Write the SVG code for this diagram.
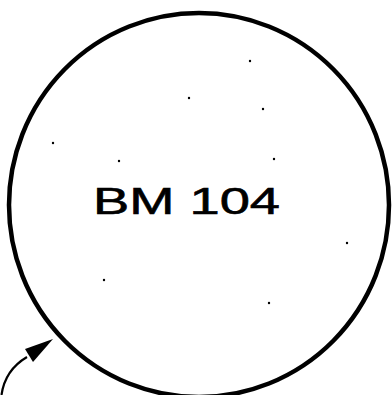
<svg xmlns="http://www.w3.org/2000/svg" width="392" height="395" viewBox="0 0 392 395">
<style>
.ring{fill:#fff;stroke:#000;stroke-width:4.5}
.lbl{font-family:"Liberation Sans",Arial,sans-serif;font-size:37px;fill:#000;stroke:#000;stroke-width:0.6}
.dot{fill:#000}
.conn{fill:none;stroke:#000;stroke-width:2.2}
</style>
<rect width="392" height="395" fill="#fff"/>
<g id="node-bm104">
<ellipse class="ring" cx="199" cy="205" rx="190" ry="192"/>
<text class="lbl" x="93" y="214" textLength="187" lengthAdjust="spacingAndGlyphs">BM 104</text>
</g>
<g id="dots">
<circle class="dot" cx="250" cy="61" r="1.2"/>
<circle class="dot" cx="189" cy="98" r="1.2"/>
<circle class="dot" cx="263" cy="109" r="1.2"/>
<circle class="dot" cx="53" cy="143" r="1.2"/>
<circle class="dot" cx="119" cy="161" r="1.2"/>
<circle class="dot" cx="274" cy="159" r="1.2"/>
<circle class="dot" cx="347" cy="243" r="1.2"/>
<circle class="dot" cx="104" cy="280" r="1.2"/>
<circle class="dot" cx="269" cy="303" r="1.2"/>
</g>
<g id="connectors">
<path class="conn" d="M 1.5 395 Q 5 370 27 357"/>
<polygon points="53,339 25,349 33,362" fill="#000"/>
</g>
</svg>
